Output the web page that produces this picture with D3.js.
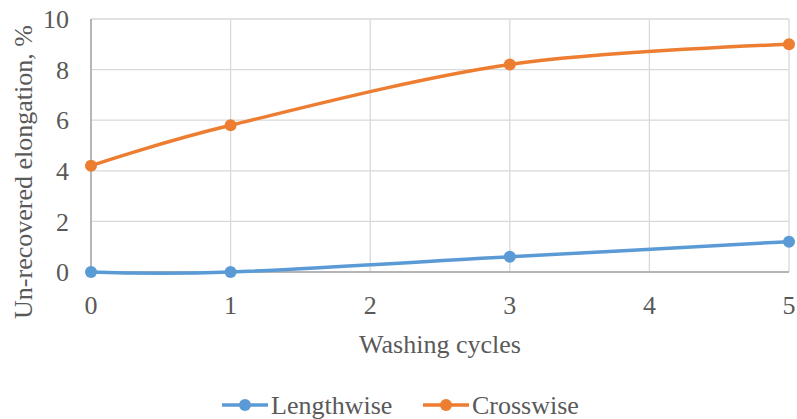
<!DOCTYPE html>
<html><head><meta charset="utf-8">
<script src="https://cdn.jsdelivr.net/npm/d3@7"></script>
<style>body{margin:0;background:#fff}</style>
</head><body><svg id="c" width="797" height="419"></svg>
<script>
const cycles = [0, 1, 3, 5];
const lengthwise = [0, 0, 0.6, 1.2];
const crosswise = [4.2, 5.8, 8.2, 9.0];
const seriesNames = ["Lengthwise", "Crosswise"];
const colors = ["#5B9BD5", "#ED7D31"];
const xTicks = [0, 1, 2, 3, 4, 5];
const yTicks = [0, 2, 4, 6, 8, 10];

const FONT = "Liberation Serif, DejaVu Serif, serif";
const svg = d3.select("#c").style("font-family", FONT);
const L = 91, R = 789, T = 19, B = 272;
const x = d3.scaleLinear().domain([0, 5]).range([L, R]);
const y = d3.scaleLinear().domain([0, 10]).range([B, T]);
const fs = 26;
const tc = "#595959";

svg.append("g").selectAll("line").data(yTicks).join("line")
  .attr("x1", L).attr("x2", R).attr("y1", d => y(d)).attr("y2", d => y(d))
  .attr("stroke", "#d9d9d9").attr("stroke-width", 1.3);
svg.append("g").selectAll("line").data(xTicks).join("line")
  .attr("y1", T).attr("y2", B).attr("x1", d => x(d)).attr("x2", d => x(d))
  .attr("stroke", "#d9d9d9").attr("stroke-width", 1.3);
svg.append("line").attr("x1", L).attr("x2", L).attr("y1", T).attr("y2", B).attr("stroke", "#a6a6a6").attr("stroke-width", 1.5);
svg.append("line").attr("x1", L).attr("x2", R).attr("y1", B).attr("y2", B).attr("stroke", "#a6a6a6").attr("stroke-width", 1.5);

svg.append("g").selectAll("text").data(yTicks).join("text")
  .attr("x", 69).attr("y", d => y(d)).attr("dy", "0.35em").attr("text-anchor", "end")
  .style("font-family", FONT).attr("fill", tc).attr("font-size", fs).text(d => d);
svg.append("g").selectAll("text").data(xTicks).join("text")
  .attr("x", d => x(d)).attr("y", 314).attr("text-anchor", "middle")
  .style("font-family", FONT).attr("fill", tc).attr("font-size", fs).text(d => d);

svg.append("text").attr("x", 440).attr("y", 353).attr("text-anchor", "middle")
  .style("font-family", FONT).attr("fill", tc).attr("font-size", fs).text("Washing cycles");
svg.append("text").attr("transform", "translate(32,172) rotate(-90)").attr("text-anchor", "middle")
  .style("font-family", FONT).attr("fill", tc).attr("font-size", fs).text("Un-recovered elongation, %");

const allSeries = [lengthwise, crosswise];
const line = d3.line().x(d => x(d[0])).y(d => y(d[1])).curve(d3.curveCardinal.tension(0));
allSeries.forEach((vals, i) => {
  const pts = cycles.map((c, j) => [c, vals[j]]);
  svg.append("path").attr("d", line(pts)).attr("fill", "none").attr("stroke", colors[i])
    .attr("stroke-width", 3.5).attr("stroke-linecap", "round");
  svg.append("g").selectAll("circle").data(pts).join("circle")
    .attr("cx", d => x(d[0])).attr("cy", d => y(d[1])).attr("r", 6).attr("fill", colors[i]);
});

const legX = [222, 423];
seriesNames.forEach((n, i) => {
  const g = svg.append("g").attr("transform", `translate(${legX[i]},405)`);
  g.append("line").attr("x1", 0).attr("x2", 46).attr("y1", 0).attr("y2", 0).attr("stroke", colors[i]).attr("stroke-width", 3.5);
  g.append("circle").attr("cx", 23).attr("cy", 0).attr("r", 6).attr("fill", colors[i]);
  g.append("text").attr("x", 49).attr("y", 0).attr("dy", "0.35em")
    .style("font-family", FONT).attr("fill", tc).attr("font-size", fs).text(n);
});
</script></body></html>
